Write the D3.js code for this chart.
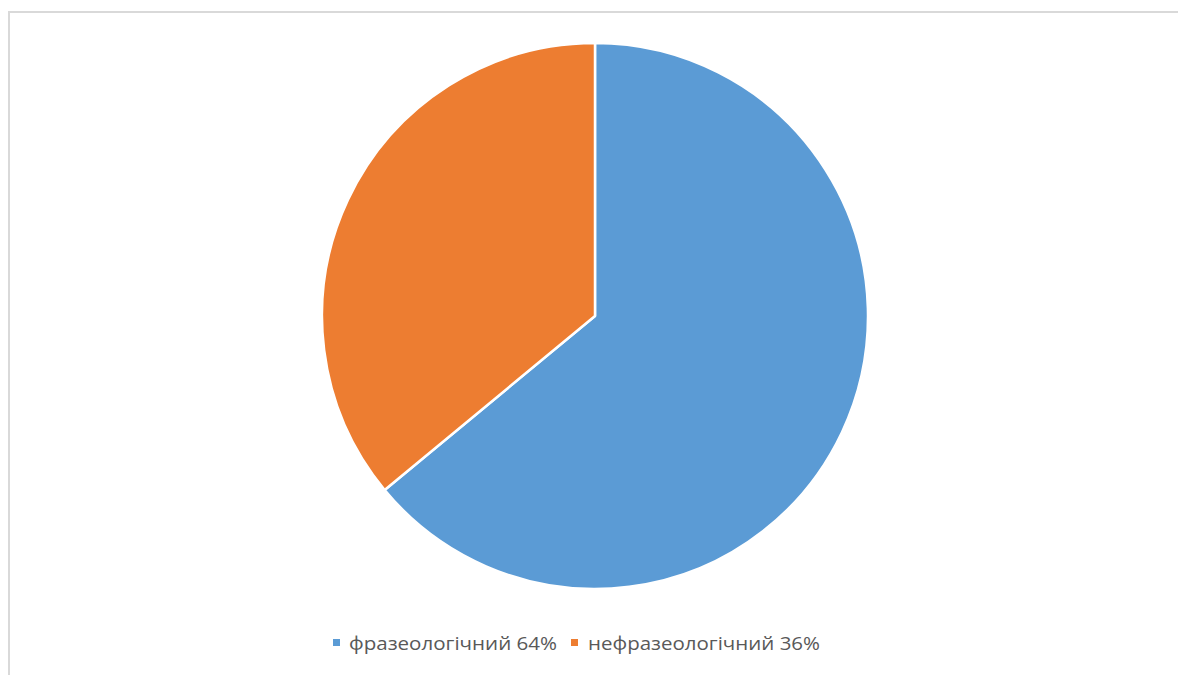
<!DOCTYPE html>
<html><head><meta charset="utf-8">
<script src="https://cdn.jsdelivr.net/npm/d3@7"></script>
<style>html,body{margin:0;padding:0;background:#fff;}svg{display:block;}</style>
</head><body>
<svg id="c" width="1178" height="675"></svg>
<script>
const categories = ["фразеологічний 64%", "нефразеологічний 36%"];
const values = [64, 36];
const colors = ["#5B9BD5", "#ED7D31"];

const svg = d3.select("#c");
svg.append("rect").attr("x", 9).attr("y", 12).attr("width", 1300).attr("height", 800)
  .attr("fill", "#fff").attr("stroke", "#d9d9d9").attr("stroke-width", 2);

const cx = 595, cy = 316, r = 273;
const pie = d3.pie().sort(null).value(d => d)(values);
const arc = d3.arc().innerRadius(0).outerRadius(r);
svg.append("g").attr("transform", `translate(${cx},${cy})`)
  .selectAll("path").data(pie).join("path")
  .attr("d", arc).attr("fill", (d, i) => colors[i])
  .attr("stroke", "#fff").attr("stroke-width", 2.5).attr("stroke-linejoin", "round");

// legend
const targets = [[349, 557], [588, 820]];
const lg = svg.append("g");
categories.forEach((c, i) => {
  lg.append("rect").attr("x", [333, 571][i]).attr("y", 639).attr("width", 7).attr("height", 7).attr("fill", colors[i]);
  lg.append("text").attr("x", targets[i][0]).attr("y", 649.5)
    .attr("font-family", "Open Sans, sans-serif").attr("font-size", 17.5)
    .attr("fill", "#595959")
    .attr("textLength", targets[i][1] - targets[i][0])
    .attr("lengthAdjust", "spacingAndGlyphs")
    .text(c);
});
</script>
</body></html>
